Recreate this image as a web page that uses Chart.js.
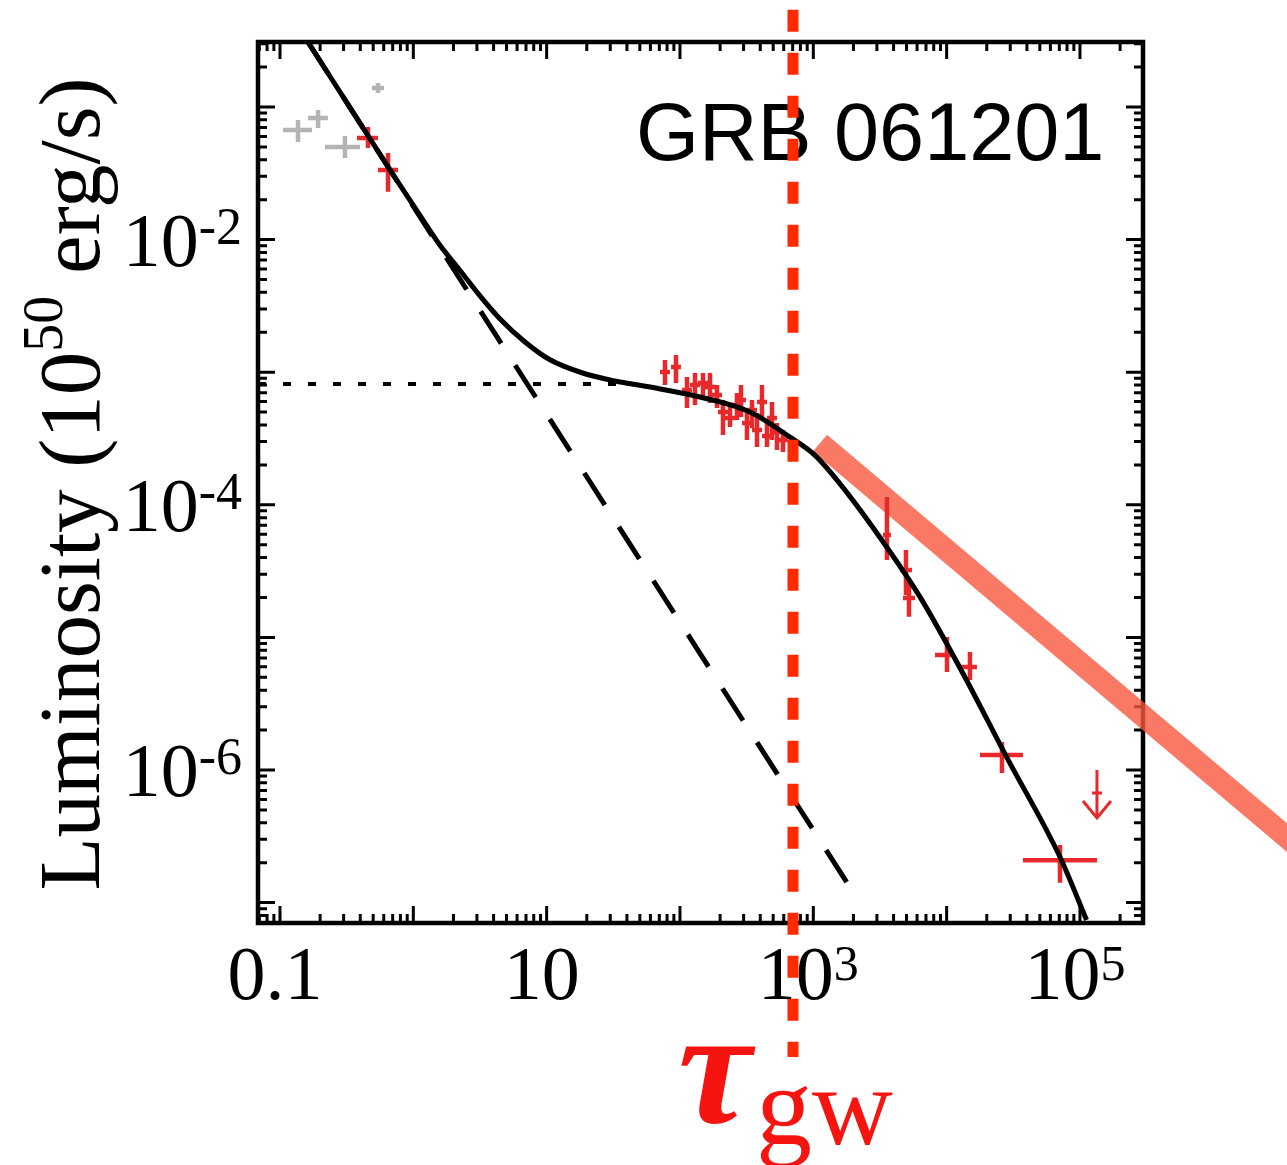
<!DOCTYPE html>
<html>
<head>
<meta charset="utf-8">
<script src="https://cdn.jsdelivr.net/npm/chart.js@4.4.1/dist/chart.umd.min.js"></script>
<style>
  html, body { margin: 0; padding: 0; background: #fff; }
  canvas { display: block; }
</style>
</head>
<body>
<canvas id="chart" width="1287" height="1165"></canvas>
<script>
// axis ranges: time (s) and luminosity (10^50 erg/s)
const xMin = 0.0684, xMax = 2.97e5;
const yMin = 7.02e-8, yMax = 0.309;

const xTickValues = [0.1, 10, 1e3, 1e5];
const xTickLabels = [['0.1', ''], ['10', ''], ['10', '3'], ['10', '5']];
const yTickValues = [1e-2, 1e-4, 1e-6];
const yTickLabels = [['10', '-2'], ['10', '-4'], ['10', '-6']];
const xDecades = [0.01, 0.1, 1, 10, 100, 1e3, 1e4, 1e5];
const yDecades = [1e-8, 1e-7, 1e-6, 1e-5, 1e-4, 1e-3, 1e-2, 1e-1];
const minorSteps = [1, 2, 3, 4, 5, 6, 7, 8, 9];

// total model (solid)
const fitT = [0.162, 0.457, 0.668, 1.334, 1.585, 2.239, 3.162, 4.47, 6.88, 10.6, 18.6, 32.5, 59.6, 141, 335, 668, 1030, 1660, 3550, 6310, 13200, 28200, 70800, 112000];
const fitL = [0.309, 0.0608, 0.0336, 0.0117, 9.05e-3, 5.85e-3, 3.76e-3, 2.52e-3, 1.69e-3, 1.24e-3, 9.86e-4, 8.59e-4, 7.73e-4, 6.50e-4, 5.01e-4, 3.24e-4, 2.36e-4, 1.36e-4, 4.81e-5, 2.02e-5, 5.39e-6, 1.25e-6, 2.21e-7, 7.4e-8];
// power-law component (dashed)
const plT = [0.162, 2054];
const plL = [0.309, 1.14e-7];
// plateau level (dotted)
const platT = [0.0684, 35];
const platL = [8.15e-4, 8.15e-4];
// t^-1 guide (thick salmon)
const guideT = [1122, 5.3e6];
const guideL = [2.92e-4, 2.21e-7];
// tau_gw marker
const tauT = [704, 704];
const tauL = [0.54, 6.86e-9];

// XRT points (red)
const redT = [0.457, 0.646, 77.2, 93.3, 112.9, 129.6, 148.8, 167.9, 189.5, 210.1, 237.1, 267.6, 286.8, 318.0, 346.7, 378.1, 412.1, 449.3, 489.8, 533.9, 592.2, 3568, 4955, 5219, 10060, 14960, 26000, 70790];
const redTLo = [0.378, 0.543, 70.8, 85.6, 103.6, 118.9, 136.5, 154.0, 173.9, 192.8, 217.5, 245.5, 263.1, 291.7, 318.1, 346.9, 378.1, 412.2, 449.4, 489.8, 543.3, 3331, 4467, 4705, 8175, 12590, 17780, 37360];
const redTHi = [0.543, 0.767, 84.1, 101.7, 123.1, 141.3, 162.2, 183.0, 206.6, 229.0, 258.4, 291.7, 312.6, 346.6, 377.9, 412.1, 449.2, 489.7, 533.9, 581.9, 645.5, 3823, 5495, 5788, 11160, 16880, 37360, 134100];
const redL = [0.0584, 0.0335, 1.004e-3, 1.094e-3, 7.34e-4, 8.00e-4, 8.29e-4, 7.73e-4, 6.73e-4, 5.01e-4, 4.52e-4, 5.66e-4, 6.17e-4, 4.14e-4, 5.19e-4, 3.66e-4, 5.96e-4, 3.30e-4, 4.52e-4, 3.54e-4, 3.08e-4, 5.92e-5, 3.22e-5, 1.98e-5, 7.36e-6, 5.98e-6, 1.297e-6, 2.09e-7];
const redLLo = [0.0491, 0.0229, 8.00e-4, 8.29e-4, 5.37e-4, 5.66e-4, 6.17e-4, 5.86e-4, 5.37e-4, 3.36e-4, 3.86e-4, 4.36e-4, 4.59e-4, 3.08e-4, 3.79e-4, 2.73e-4, 4.52e-4, 2.73e-4, 3.08e-4, 2.59e-4, 2.50e-4, 3.84e-5, 2.09e-5, 1.43e-5, 5.48e-6, 4.78e-6, 9.48e-7, 1.41e-7];
const redLHi = [0.0707, 0.045, 1.236e-3, 1.349e-3, 9.20e-4, 9.87e-4, 9.87e-4, 9.87e-4, 8.00e-4, 6.17e-4, 5.66e-4, 6.97e-4, 8.00e-4, 4.92e-4, 6.17e-4, 4.92e-4, 8.00e-4, 4.14e-4, 5.96e-4, 4.14e-4, 3.66e-4, 1.146e-4, 4.56e-5, 2.71e-5, 1.007e-5, 7.76e-6, 1.626e-6, 2.72e-7];

// BAT points (gray)
const grayT = [0.1365, 0.193, 0.307, 0.543];
const grayTLo = [0.1053, 0.162, 0.2175, 0.490];
const grayTHi = [0.174, 0.229, 0.398, 0.603];
const grayL = [0.0671, 0.0826, 0.0499, 0.139];
const grayLLo = [0.0545, 0.0695, 0.0412, 0.1276];
const grayLHi = [0.0798, 0.0949, 0.0604, 0.1517];

// upper limit
const limT = [134100];
const limL = [6.71e-7];
const limTop = [1.0e-6];
const limBottom = [4.35e-7];

const pts = (t, l) => t.map((v, i) => ({x: v, y: l[i]}));
const errPts = (t, tlo, thi, l, llo, lhi) => t.map((v, i) => ({
  x: v, y: l[i], xMin: tlo[i], xMax: thi[i], yMin: llo[i], yMax: lhi[i]
}));

const serif = '"Liberation Serif", "Times New Roman", serif';

// frame, inward ticks and all the text
const frame = {
  id: 'frame',
  beforeDatasetsDraw(chart) {
    const {ctx, chartArea: a, scales: {x, y}} = chart;
    ctx.save();
    ctx.strokeStyle = '#000';
    ctx.lineWidth = 3;
    ctx.beginPath();
    xDecades.forEach(d => minorSteps.forEach(m => {
      const v = d * m;
      if (v < xMin || v > xMax) return;
      const px = x.getPixelForValue(v);
      const len = m === 1 ? 17 : 9;
      ctx.moveTo(px, a.bottom); ctx.lineTo(px, a.bottom - len);
      ctx.moveTo(px, a.top); ctx.lineTo(px, a.top + len);
    }));
    yDecades.forEach(d => minorSteps.forEach(m => {
      const v = d * m;
      if (v < yMin || v > yMax) return;
      const py = y.getPixelForValue(v);
      const len = m === 1 ? 17 : 9;
      ctx.moveTo(a.left, py); ctx.lineTo(a.left + len, py);
      ctx.moveTo(a.right, py); ctx.lineTo(a.right - len, py);
    }));
    ctx.stroke();
    ctx.lineWidth = 4.5;
    ctx.strokeRect(a.left, a.top, a.right - a.left, a.bottom - a.top);

    // x tick labels
    ctx.fillStyle = '#000';
    ctx.textBaseline = 'alphabetic';
    ctx.textAlign = 'left';
    xTickValues.forEach((v, i) => {
      const [m, s] = xTickLabels[i];
      ctx.font = '76px ' + serif;
      const wm = ctx.measureText(m).width;
      ctx.font = '50px ' + serif;
      const ws = s ? ctx.measureText(s).width : 0;
      const left = x.getPixelForValue(v) - (wm + ws) / 2 - 5;
      ctx.font = '76px ' + serif;
      ctx.fillText(m, left, 999);
      if (s) { ctx.font = '50px ' + serif; ctx.fillText(s, left + wm, 980); }
    });
    // y tick labels
    yTickValues.forEach((v, i) => {
      const [m, s] = yTickLabels[i];
      const py = y.getPixelForValue(v);
      ctx.font = '76px ' + serif;
      const wm = ctx.measureText(m).width;
      ctx.font = '52px ' + serif;
      const ws = ctx.measureText(s).width;
      const left = 242 - wm - ws;
      ctx.font = '76px ' + serif;
      ctx.fillText(m, left, py + 26);
      ctx.font = '52px ' + serif;
      ctx.fillText(s, left + wm, py + 4);
    });

    // y axis title, rotated
    ctx.save();
    ctx.translate(99, 484);
    ctx.rotate(-Math.PI / 2);
    const parts = [['Luminosity (10', 87, 0], ['50', 56, -37], [' erg/s)', 87, 0]];
    let total = 0;
    parts.forEach(p => { ctx.font = p[1] + 'px ' + serif; total += ctx.measureText(p[0]).width; });
    let cx = -total / 2;
    parts.forEach(p => {
      ctx.font = p[1] + 'px ' + serif;
      ctx.fillText(p[0], cx, p[2]);
      cx += ctx.measureText(p[0]).width;
    });
    ctx.restore();

    // burst name
    ctx.font = '81px "Liberation Sans", Arial, sans-serif';
    ctx.fillText('GRB 061201', 636, 160);

    // tau_gw label
    ctx.fillStyle = '#f5140f';
    ctx.font = 'italic bold 165px ' + serif;
    ctx.fillText('\u03c4', 678, 1122);
    ctx.font = '112px ' + serif;
    ctx.fillText('gw', 756, 1144);
    ctx.restore();
  }
};

// error crosses and the upper-limit arrow, drawn right after their dataset
const errorBars = {
  id: 'errorBars',
  afterDatasetDraw(chart, args) {
    const ds = chart.data.datasets[args.index];
    if (!ds.errorBars && !ds.upperLimit) return;
    const {ctx, chartArea: a, scales: {x, y}} = chart;
    ctx.save();
    ctx.beginPath();
    ctx.rect(a.left, a.top, a.right - a.left, a.bottom - a.top);
    ctx.clip();
    ctx.strokeStyle = ds.borderColor;
    ctx.lineWidth = ds.barWidth;
    ds.data.forEach(p => {
      const cx = x.getPixelForValue(p.x), cy = y.getPixelForValue(p.y);
      ctx.beginPath();
      if (ds.errorBars) {
        ctx.moveTo(x.getPixelForValue(p.xMin), cy); ctx.lineTo(x.getPixelForValue(p.xMax), cy);
        ctx.moveTo(cx, y.getPixelForValue(p.yMin)); ctx.lineTo(cx, y.getPixelForValue(p.yMax));
      } else {
        const tip = y.getPixelForValue(p.yMin);
        ctx.moveTo(cx, y.getPixelForValue(p.yMax)); ctx.lineTo(cx, tip);
        ctx.moveTo(cx - 5, cy); ctx.lineTo(cx + 5, cy);
        ctx.moveTo(cx - 14, tip - 17); ctx.lineTo(cx, tip); ctx.lineTo(cx + 14, tip - 17);
      }
      ctx.stroke();
    });
    ctx.restore();
  }
};

new Chart(document.getElementById('chart'), {
  type: 'line',
  data: {
    datasets: [
      {
        data: pts(guideT, guideL),
        borderColor: 'rgba(248, 88, 62, 0.8)',
        borderWidth: 22,
        borderCapStyle: 'butt',
        pointRadius: 0,
        clip: false,
        order: 7
      },
      {
        data: errPts(grayT, grayTLo, grayTHi, grayL, grayLLo, grayLHi),
        errorBars: true,
        barWidth: 4.5,
        borderColor: '#b4b4b4',
        showLine: false,
        pointRadius: 0,
        order: 6
      },
      {
        data: errPts(redT, redTLo, redTHi, redL, redLLo, redLHi),
        errorBars: true,
        barWidth: 4.5,
        borderColor: '#e8282a',
        showLine: false,
        pointRadius: 0,
        order: 5
      },
      {
        data: limT.map((t, i) => ({x: t, y: limL[i], yMax: limTop[i], yMin: limBottom[i]})),
        upperLimit: true,
        barWidth: 3,
        borderColor: '#e8282a',
        showLine: false,
        pointRadius: 0,
        order: 5
      },
      {
        data: pts(platT, platL),
        borderColor: '#000',
        borderWidth: 4,
        borderDash: [8, 17],
        pointRadius: 0,
        order: 4
      },
      {
        data: pts(plT, plL),
        borderColor: '#000',
        borderWidth: 5,
        borderDash: [38, 26],
        pointRadius: 0,
        order: 3
      },
      {
        data: pts(fitT, fitL),
        borderColor: '#000',
        borderWidth: 5,
        cubicInterpolationMode: 'monotone',
        pointRadius: 0,
        order: 2
      },
      {
        data: pts(tauT, tauL),
        borderColor: '#ff2a00',
        borderWidth: 11,
        borderDash: [22, 21],
        pointRadius: 0,
        clip: false,
        order: 1
      }
    ]
  },
  options: {
    responsive: false,
    devicePixelRatio: 1,
    animation: false,
    events: [],
    layout: { padding: { left: 258, top: 42, right: 144, bottom: 242 } },
    plugins: { legend: { display: false }, tooltip: { enabled: false } },
    scales: {
      x: { type: 'logarithmic', min: xMin, max: xMax, display: false },
      y: { type: 'logarithmic', min: yMin, max: yMax, display: false }
    }
  },
  plugins: [frame, errorBars]
});
</script>
</body>
</html>
